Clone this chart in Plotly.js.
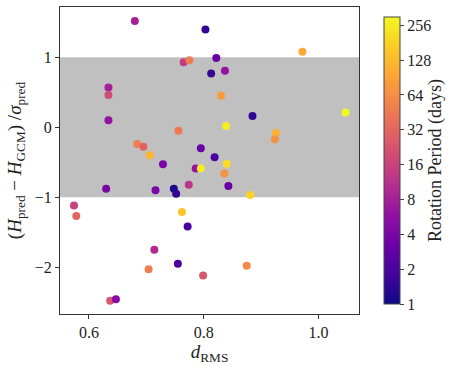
<!DOCTYPE html>
<html><head><meta charset="utf-8">
<script src="https://cdn.plot.ly/plotly-3.0.1.min.js"></script>
<style>html,body{margin:0;padding:0;background:#fff}#c{width:464px;height:366px}</style>
</head><body><div id="c"></div>
<script>
const dRMS = [0.680,0.803,0.765,0.775,0.822,0.813,0.837,0.634,0.634,0.830,0.634,0.839,0.756,0.684,0.695,0.706,0.795,0.819,0.729,0.840,0.786,0.795,0.836,0.630,0.716,0.748,0.752,0.774,0.843,0.881,0.574,0.578,0.762,0.772,0.714,0.704,0.755,0.799,0.875,0.637,0.647,0.972,0.885,1.047,0.926,0.924];
const zScore = [1.52,1.40,0.93,0.96,0.99,0.77,0.81,0.57,0.46,0.45,0.10,0.02,-0.05,-0.24,-0.28,-0.40,-0.30,-0.43,-0.53,-0.52,-0.59,-0.59,-0.66,-0.88,-0.90,-0.88,-0.95,-0.82,-0.84,-0.97,-1.12,-1.27,-1.21,-1.42,-1.75,-2.03,-1.95,-2.12,-1.98,-2.48,-2.46,1.08,0.16,0.21,-0.08,-0.17];
const rotPeriod = [8,1.5,14,48,3,1.5,6,8,20,80,6,256,45,48,30,120,3,2,4,200,6,256,70,4,4,1.2,1.5,12,3,180,16,32,150,2,10,50,2,24,60,24,5,100,1.5,300,110,70];
const cbTicks = [1,2,4,8,16,32,64,128,256];
const xTicks = [0.6,0.8,1.0];
const yTicks = [-2,-1,0,1];
const pMax = 302;

const plasma = [[0,'#0d0887'],[0.1,'#41049d'],[0.2,'#6a00a8'],[0.3,'#8f0da4'],[0.4,'#b12a90'],[0.5,'#cc4778'],[0.6,'#e16462'],[0.7,'#f2844b'],[0.8,'#fca636'],[0.9,'#fcce25'],[1,'#f0f921']];
const FAM = 'Liberation Serif';
const font = {family:FAM, color:'#222'};
const trace = {
  x: dRMS, y: zScore, type:'scatter', mode:'markers',
  marker:{
    size:8,
    color: rotPeriod.map(p=>Math.log10(p)),
    cmin:0, cmax:Math.log10(pMax),
    colorscale: plasma,
    line:{width:0},
    colorbar:{
      x:1.05, xanchor:'left', y:0.5, yanchor:'middle', len:1, lenmode:'fraction',
      thickness:16, outlinewidth:1, outlinecolor:'#444',
      tickmode:'array', tickvals: cbTicks.map(v=>Math.log10(v)), ticktext: cbTicks.map(String),
      ticks:'outside', ticklen:4, tickcolor:'#444',
      tickfont:{family:FAM, color:'#222', size:16},
      title:{text:'Rotation Period (days)', side:'right', font:{family:FAM, color:'#222', size:18}}
    }
  },
  hoverinfo:'none', showlegend:false
};
const layout = {
  width:464, height:366,
  margin:{l:60, r:94, t:7, b:52},
  paper_bgcolor:'#fff', plot_bgcolor:'#fff',
  font: font,
  xaxis:{range:[0.5496,1.0706], tickvals:xTicks, ticktext:xTicks.map(v=>v.toFixed(1)),
    ticks:'outside', ticklen:4, tickcolor:'#333', showgrid:false, zeroline:false,
    showline:true, linecolor:'#333', linewidth:1, mirror:true,
    tickfont:{family:FAM, color:'#222', size:16},
    title:{text:'<i>d</i><sub>RMS</sub>', font:{family:FAM, color:'#222', size:19}, standoff:4}},
  yaxis:{range:[-2.67,1.72], tickvals:yTicks,
    ticks:'outside', ticklen:4, tickcolor:'#333', showgrid:false, zeroline:false,
    showline:true, linecolor:'#333', linewidth:1, mirror:true,
    tickfont:{family:FAM, color:'#222', size:16},
    title:{text:'(<i>H</i><sub>pred</sub> − <i>H</i><sub>GCM</sub>) /<i>σ</i><sub>pred</sub>', font:{family:FAM, color:'#222', size:19}, standoff:8}},
  shapes:[{type:'rect', xref:'paper', x0:0, x1:1, yref:'y', y0:-1, y1:1,
    fillcolor:'#c0c0c0', line:{width:0}, layer:'below'}]
};
Plotly.newPlot('c',[trace],layout,{staticPlot:true});
</script></body></html>
